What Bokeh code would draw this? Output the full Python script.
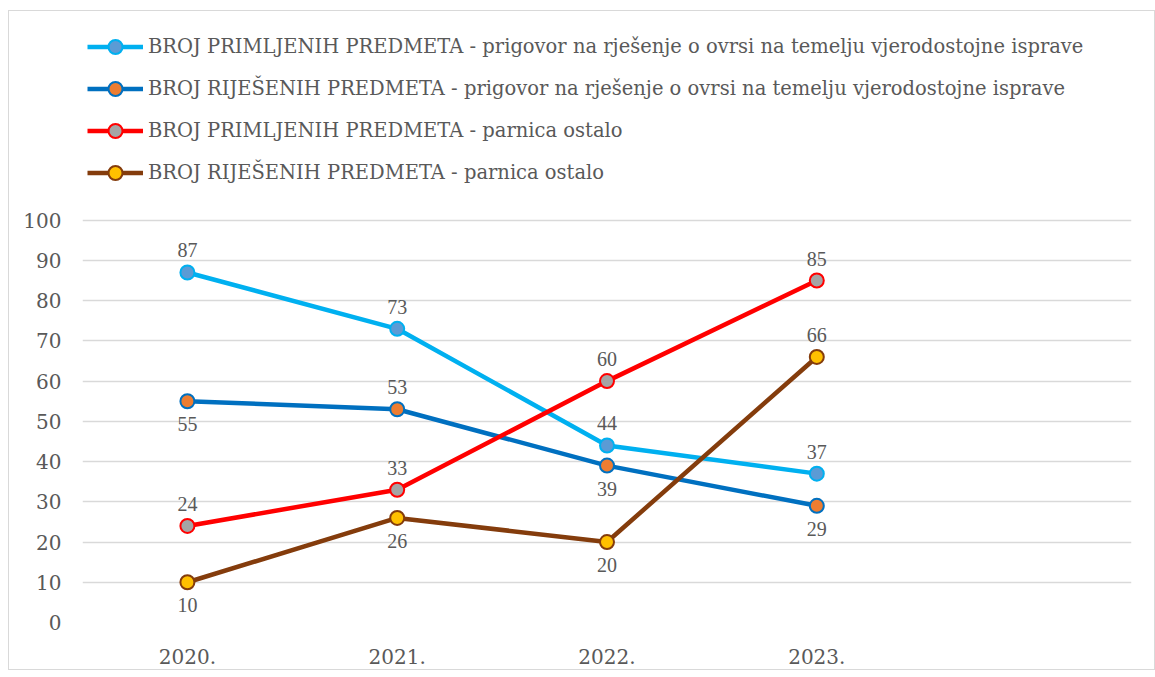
from bokeh.plotting import figure
from bokeh.models import (ColumnDataSource, FactorRange, Range1d, FixedTicker,
                          Legend, LegendItem, LabelSet)
from bokeh.embed import file_html
from bokeh.resources import INLINE

years = ["2020.", "2021.", "2022.", "2023."]
x_factors = years + [" "]

primljeni_prigovor = [87, 73, 44, 37]
rijeseni_prigovor = [55, 53, 39, 29]
primljeni_parnica = [24, 33, 60, 85]
rijeseni_parnica = [10, 26, 20, 66]

series_names = [
    "BROJ PRIMLJENIH PREDMETA - prigovor na rješenje o ovrsi na temelju vjerodostojne isprave",
    "BROJ RIJEŠENIH PREDMETA - prigovor na rješenje o ovrsi na temelju vjerodostojne isprave",
    "BROJ PRIMLJENIH PREDMETA - parnica ostalo",
    "BROJ RIJEŠENIH PREDMETA - parnica ostalo",
]
# label placement: 1 = above, -1 = below
label_pos = [
    [1, 1, 1, 1],
    [-1, 1, -1, -1],
    [1, 1, 1, 1],
    [-1, -1, -1, 1],
]
line_colors = ["#00B0F0", "#0070C0", "#FF0000", "#843C0C"]
fill_colors = ["#5B9BD5", "#ED7D31", "#A5A5A5", "#FFC000"]
all_values = [primljeni_prigovor, rijeseni_prigovor, primljeni_parnica, rijeseni_parnica]

FONT = "DejaVu Serif"
TXT = "#595959"
FS = "20px"
FS_LEG = "19.5px"

W, H = 1147, 660
left, right_b, top_b, bottom_b = 73, 25, 13, 48
frame_h = H - top_b - bottom_b
y_top = frame_h * 100 / 403.0

p = figure(width=W, height=H, output_backend="svg", toolbar_location=None,
           x_range=FactorRange(*x_factors, range_padding=0),
           y_range=Range1d(0, y_top),
           min_border_left=left, min_border_right=right_b,
           min_border_top=top_b, min_border_bottom=bottom_b)
p.styles = {"border": "1.5px solid #D9D9D9", "margin-left": "8px", "margin-top": "10px"}
p.outline_line_color = None
p.background_fill_color = "white"
p.border_fill_color = "white"

p.xgrid.grid_line_color = None
p.ygrid.grid_line_color = "#D9D9D9"
p.ygrid.grid_line_width = 1.5
p.yaxis.ticker = FixedTicker(ticks=list(range(0, 101, 10)))
for ax in (p.xaxis[0], p.yaxis[0]):
    ax.axis_line_color = None
    ax.major_tick_line_color = None
    ax.minor_tick_line_color = None
    ax.major_label_text_font = FONT
    ax.major_label_text_font_size = FS
    ax.major_label_text_color = TXT
p.yaxis.major_label_standoff = 15
p.xaxis.major_label_standoff = 16

items = []
for name, vals, lc, fc, pos in zip(series_names, all_values, line_colors, fill_colors, label_pos):
    src = ColumnDataSource(dict(x=years, y=vals))
    l = p.line("x", "y", source=src, line_color=lc, line_width=4.5)
    c = p.scatter("x", "y", source=src, size=14, fill_color=fc, line_color=lc, line_width=2)
    items.append(LegendItem(label=name, renderers=[l, c]))
    for side, off in ((1, 22), (-1, -23)):
        sub = ColumnDataSource(dict(
            x=[x for x, s in zip(years, pos) if s == side],
            y=[v for v, s in zip(vals, pos) if s == side],
            lbl=[str(v) for v, s in zip(vals, pos) if s == side]))
        p.add_layout(LabelSet(x="x", y="y", text="lbl", source=sub, y_offset=off,
                              text_align="center", text_baseline="middle",
                              text_font=FONT, text_font_size=FS, text_color=TXT))

legend = Legend(items=items, location="top_left",
                orientation="vertical", glyph_width=56, glyph_height=35,
                label_height=23, spacing=7, label_standoff=5, padding=0, margin=5,
                label_text_font=FONT, label_text_font_size=FS_LEG, label_text_color=TXT,
                background_fill_alpha=0, border_line_color=None)
p.add_layout(legend)

open("out.html", "w").write(file_html(p, INLINE))
